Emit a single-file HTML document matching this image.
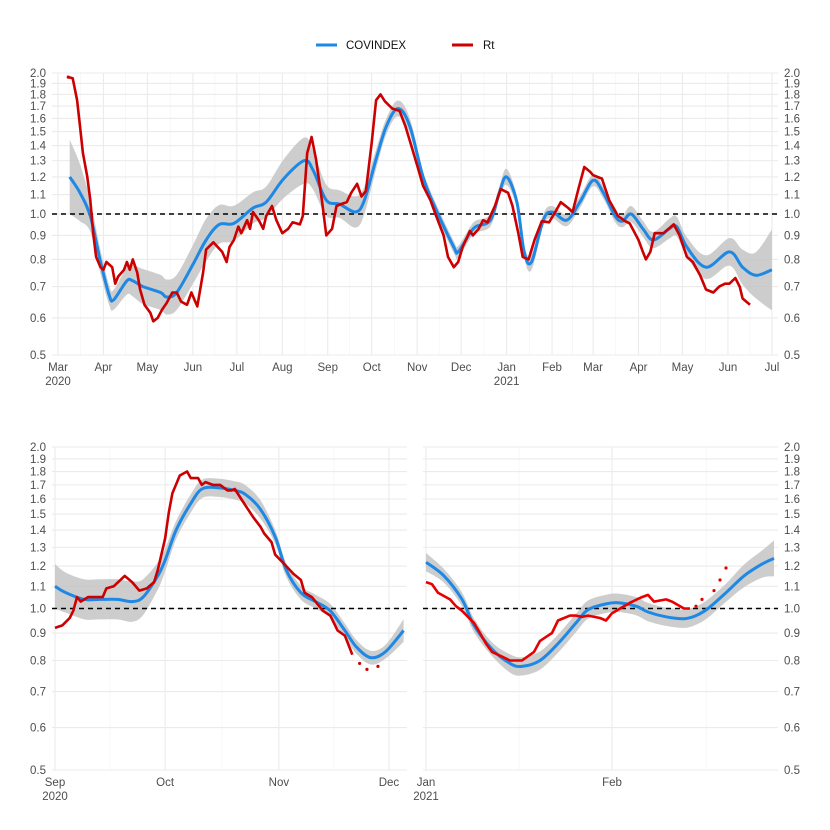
<!DOCTYPE html>
<html><head><meta charset="utf-8"><style>
body{margin:0;background:#fff}
svg{display:block;font-family:"Liberation Sans",sans-serif}
</style></head><body>
<svg id="chart" width="830" height="830" viewBox="0 0 830 830">
<g>
<line x1="316" y1="45" x2="337" y2="45" stroke="#1e88e5" stroke-width="3"/>
<text x="346" y="49" font-size="11.5" fill="#111">COVINDEX</text>
<line x1="452" y1="45" x2="473" y2="45" stroke="#cc0000" stroke-width="3"/>
<text x="483" y="49" font-size="11.5" fill="#111">Rt</text>
</g>
</svg>
<script>
// ---------- data: top panel (days since 2020-03-01) ----------
const topCovDays=[8,15,22,29,35,38,47,51,58,70,74,81,92,101,110,120,133,142,154,168,174,183,192,203,209,217,224,232,240,249,258,270,273,281,285,295,301,306,313,318,323,331,337,347,356,365,372,380,385,391,399,406,417,422,429,442,458,467,476,487];
const topCovVals=[1.2,1.11,0.99,0.79,0.67,0.656,0.72,0.72,0.70,0.68,0.665,0.68,0.78,0.88,0.95,0.955,1.03,1.06,1.19,1.30,1.24,1.07,1.05,1.01,1.07,1.31,1.54,1.68,1.54,1.2,1.02,0.85,0.83,0.91,0.94,0.97,1.11,1.2,1.06,0.83,0.79,0.97,1.01,0.97,1.06,1.18,1.11,0.99,0.965,1.0,0.93,0.88,0.93,0.94,0.85,0.77,0.83,0.77,0.74,0.76];
const topCovCI=[0.2,0.15,0.08,0.06,0.05,0.05,0.07,0.08,0.09,0.09,0.09,0.09,0.1,0.11,0.1,0.09,0.08,0.08,0.1,0.12,0.1,0.08,0.07,0.08,0.07,0.05,0.04,0.04,0.04,0.03,0.03,0.03,0.03,0.03,0.03,0.03,0.03,0.04,0.03,0.03,0.04,0.03,0.03,0.03,0.03,0.03,0.03,0.03,0.03,0.04,0.04,0.04,0.05,0.05,0.05,0.06,0.07,0.09,0.12,0.22];
const topRtDays=[7,10,13,15,17,20,22,24,26,29,31,33,37,39,41,45,47,49,51,54,56,59,63,65,68,71,74,78,81,84,88,91,95,97,99,101,106,109,112,115,117,120,123,125,129,131,133,137,140,142,146,149,153,157,160,165,167,170,173,176,180,183,187,190,193,197,200,204,207,210,214,217,220,223,228,233,237,241,246,249,254,258,263,266,270,273,276,281,283,287,290,293,298,302,307,310,314,317,321,325,330,335,340,343,348,351,355,359,363,365,371,376,382,387,390,396,399,401,404,407,413,420,424,429,433,438,442,447,451,455,458,462,465,467,472];
const topRtVals=[1.96,1.95,1.75,1.54,1.35,1.2,1.07,0.91,0.81,0.77,0.76,0.79,0.77,0.71,0.735,0.76,0.79,0.76,0.80,0.75,0.69,0.64,0.615,0.59,0.60,0.625,0.645,0.68,0.68,0.65,0.64,0.68,0.635,0.69,0.75,0.84,0.87,0.85,0.83,0.79,0.85,0.88,0.94,0.91,0.97,0.93,1.01,0.97,0.93,0.99,1.04,0.97,0.91,0.93,0.96,0.95,0.99,1.35,1.46,1.31,1.07,0.90,0.93,1.04,1.05,1.06,1.11,1.16,1.09,1.12,1.42,1.75,1.8,1.74,1.68,1.66,1.54,1.40,1.24,1.15,1.07,0.99,0.90,0.81,0.77,0.79,0.85,0.92,0.9,0.93,0.97,0.96,1.04,1.13,1.11,1.04,0.91,0.81,0.80,0.88,0.965,0.96,1.02,1.06,1.03,1.01,1.13,1.26,1.23,1.21,1.19,1.07,0.99,0.965,0.955,0.88,0.83,0.80,0.83,0.91,0.91,0.95,0.9,0.81,0.79,0.74,0.69,0.68,0.70,0.71,0.71,0.73,0.70,0.66,0.64];
// ---------- data: bottom-left (days since 2020-09-01) ----------
const blCovDays=[0,3,8,12,17,21,24,28,30,33,37,40,44,49,52,56,60,63,67,71,75,79,82,86,90,95];
const blCovVals=[1.10,1.07,1.04,1.04,1.04,1.03,1.05,1.15,1.23,1.40,1.57,1.67,1.68,1.66,1.63,1.53,1.36,1.18,1.07,1.03,0.99,0.91,0.85,0.81,0.83,0.91];
const blCovCI=[0.1,0.09,0.09,0.09,0.09,0.09,0.08,0.06,0.05,0.04,0.04,0.04,0.04,0.04,0.04,0.04,0.03,0.03,0.03,0.03,0.03,0.03,0.03,0.03,0.03,0.05];
const blRtDays=[0,2,4,5,6,7,9,10,13,14,16,19,21,23,25,27,28,30,31,32,34,36,37,39,40,41,43,45,47,48,49,51,54,56,57,59,60,62,65,67,68,70,73,75,77,79,81];
const blRtVals=[0.92,0.93,0.96,0.99,1.05,1.03,1.05,1.05,1.05,1.09,1.10,1.15,1.12,1.08,1.09,1.12,1.18,1.35,1.51,1.64,1.77,1.80,1.75,1.75,1.70,1.72,1.70,1.70,1.66,1.66,1.67,1.59,1.48,1.42,1.38,1.33,1.26,1.22,1.16,1.13,1.07,1.05,0.99,0.97,0.91,0.89,0.82];
const blDotDays=[83,85,88];
const blDotVals=[0.79,0.77,0.78];
// ---------- data: bottom-right (days since 2021-01-01) ----------
const brCovDays=[0,3,6,8,11,14,16,19,22,25,27,30,32,35,37,40,43,45,47,50,53,56,58];
const brCovVals=[1.22,1.15,1.04,0.93,0.84,0.79,0.78,0.80,0.86,0.94,0.995,1.02,1.025,1.01,0.985,0.965,0.957,0.97,1.0,1.07,1.15,1.21,1.24];
const brCovCI=[0.04,0.03,0.03,0.03,0.03,0.04,0.04,0.04,0.04,0.04,0.04,0.04,0.04,0.04,0.04,0.04,0.04,0.04,0.04,0.04,0.05,0.06,0.08];
const brRtDays=[0,1,2,4,5,6,8,9,10,11,13,14,16,18,19,21,22,24,25,26,27,29,30,31,33,34,36,37,38,40,41,43,44];
const brRtVals=[1.12,1.11,1.07,1.04,1.01,0.99,0.94,0.90,0.86,0.83,0.81,0.80,0.80,0.83,0.87,0.90,0.95,0.97,0.97,0.965,0.97,0.96,0.95,0.98,1.01,1.025,1.05,1.06,1.03,1.04,1.03,1.0,1.0];
const brDotDays=[45,46,48,49,50];
const brDotVals=[1.01,1.04,1.08,1.13,1.19];
// ---------- axes ----------
const yTicks=[0.5,0.6,0.7,0.8,0.9,1.0,1.1,1.2,1.3,1.4,1.5,1.6,1.7,1.8,1.9,2.0];
const topMonthDays=[0,31,61,92,122,153,184,214,245,275,306,337,365,396,426,457,487];
const topMonthLabels=["Mar","Apr","May","Jun","Jul","Aug","Sep","Oct","Nov","Dec","Jan","Feb","Mar","Apr","May","Jun","Jul"];
const blMonthDays=[0,30,61,91];
const blMonthLabels=["Sep","Oct","Nov","Dec"];
const brMonthDays=[0,31];
const brMonthLabels=["Jan","Feb"];
const brMinorDays=[15.5,46.7];

const NS="http://www.w3.org/2000/svg";
const svg=document.getElementById('chart');
function mk(tag,attrs,parent){const e=document.createElementNS(NS,tag);for(const k in attrs)e.setAttribute(k,attrs[k]);(parent||svg).appendChild(e);return e;}
function spline(pts){
  if(pts.length<2)return"";
  let d="M"+pts[0][0].toFixed(1)+","+pts[0][1].toFixed(1);
  for(let i=0;i<pts.length-1;i++){
    const p0=pts[i-1]||pts[i],p1=pts[i],p2=pts[i+1],p3=pts[i+2]||p2;
    const c1=[p1[0]+(p2[0]-p0[0])/6,p1[1]+(p2[1]-p0[1])/6];
    const c2=[p2[0]-(p3[0]-p1[0])/6,p2[1]-(p3[1]-p1[1])/6];
    d+="C"+c1[0].toFixed(1)+","+c1[1].toFixed(1)+" "+c2[0].toFixed(1)+","+c2[1].toFixed(1)+" "+p2[0].toFixed(1)+","+p2[1].toFixed(1);
  }
  return d;
}
function panel(cfg){
  const g=mk('g',{});
  
  
  const X=d=>cfg.ox+d*cfg.pxDay;
  const Y=v=>cfg.yBot-Math.log2(v/0.5)*(cfg.yBot-cfg.yTop)/2;
  // minor vertical grid
  const minors=cfg.minor||cfg.months.slice(0,-1).map((d,i)=>(d+cfg.months[i+1])/2);
  minors.forEach(d=>{const x=X(d);if(x>cfg.x0&&x<cfg.x1){const l=mk('line',{x1:x,x2:x,y1:cfg.yTop,y2:cfg.yBot,stroke:'#f2f2f2','stroke-width':0.6},g);}});
  yTicks.forEach(v=>{const l=mk('line',{x1:cfg.x0,x2:cfg.x1,y1:Y(v),y2:Y(v),stroke:'#ebebeb','stroke-width':1.1},g);});
  cfg.months.forEach(d=>{const x=X(d);const l=mk('line',{x1:x,x2:x,y1:cfg.yTop,y2:cfg.yBot,stroke:'#ebebeb','stroke-width':1.1},g);});
  // y labels
  const sides=[];if(cfg.left)sides.push(['end',cfg.x0-6]);if(cfg.right)sides.push(['start',cfg.x1+6]);
  sides.forEach(([anc,x])=>yTicks.forEach(v=>{const t=mk('text',{x:x,y:Y(v)+4,'text-anchor':anc,'font-size':11.5,fill:'#4d4d4d'},g);t.textContent=v.toFixed(1);}));
  // x labels
  cfg.months.forEach((d,i)=>{const t=mk('text',{x:X(d),y:cfg.yBot+16,'text-anchor':'middle','font-size':11.5,fill:'#4d4d4d'},g);t.textContent=cfg.labels[i];});
  (cfg.years||[]).forEach(([d,yr])=>{const t=mk('text',{x:X(d),y:cfg.yBot+30,'text-anchor':'middle','font-size':11.5,fill:'#4d4d4d'},g);t.textContent=yr;});
  // CI band
  const up=cfg.covD.map((d,i)=>[X(d),Y(cfg.covV[i]*(1+cfg.ci[i]))]);
  const lo=cfg.covD.map((d,i)=>[X(d),Y(cfg.covV[i]/(1+cfg.ci[i]))]).reverse();
  const band=mk('path',{d:spline(up)+spline(lo).replace('M','L')+'Z',fill:'#c4c4c4','fill-opacity':0.85},g);
  
  // reference line
  const ref=mk('line',{x1:cfg.x0,x2:cfg.x1,y1:Y(1),y2:Y(1),stroke:'#000','stroke-width':1.4,'stroke-dasharray':'5,4'},g);
  
  // covindex
  const cov=mk('path',{d:spline(cfg.covD.map((d,i)=>[X(d),Y(cfg.covV[i])])),fill:'none',stroke:'#1e88e5','stroke-width':3},g);
  
  // Rt
  const rt=mk('polyline',{points:cfg.rtD.map((d,i)=>X(d).toFixed(1)+','+Y(cfg.rtV[i]).toFixed(1)).join(' '),fill:'none',stroke:cfg.rtColor,'stroke-width':2.6,'stroke-linejoin':'round'},g);
  
  (cfg.dotD||[]).forEach((d,i)=>{const c=mk('circle',{cx:X(d),cy:Y(cfg.dotV[i]),r:1.6,fill:cfg.rtColor},g);});
}
panel({name:'top-panel',x0:52,x1:778,ox:58,pxDay:1.466,yTop:73,yBot:355,left:true,right:true,
  months:topMonthDays,labels:topMonthLabels,years:[[0,'2020'],[306,'2021']],
  covD:topCovDays,covV:topCovVals,ci:topCovCI,rtD:topRtDays,rtV:topRtVals,rtColor:'#cc0000',
  dotD:[7],dotV:[1.96]});
panel({name:'bottom-left-panel',x0:52,x1:407,ox:55,pxDay:3.67,yTop:447,yBot:770,left:true,right:false,
  months:blMonthDays,labels:blMonthLabels,years:[[0,'2020']],
  covD:blCovDays,covV:blCovVals,ci:blCovCI,rtD:blRtDays,rtV:blRtVals,rtColor:'#cc0000',
  dotD:blDotDays,dotV:blDotVals});
panel({name:'bottom-right-panel',x0:423,x1:778,ox:426,pxDay:6.0,yTop:447,yBot:770,left:false,right:true,
  months:brMonthDays,labels:brMonthLabels,years:[[0,'2021']],minor:brMinorDays,
  covD:brCovDays,covV:brCovVals,ci:brCovCI,rtD:brRtDays,rtV:brRtVals,rtColor:'#e60000',
  dotD:brDotDays,dotV:brDotVals});
</script>
</body></html>
